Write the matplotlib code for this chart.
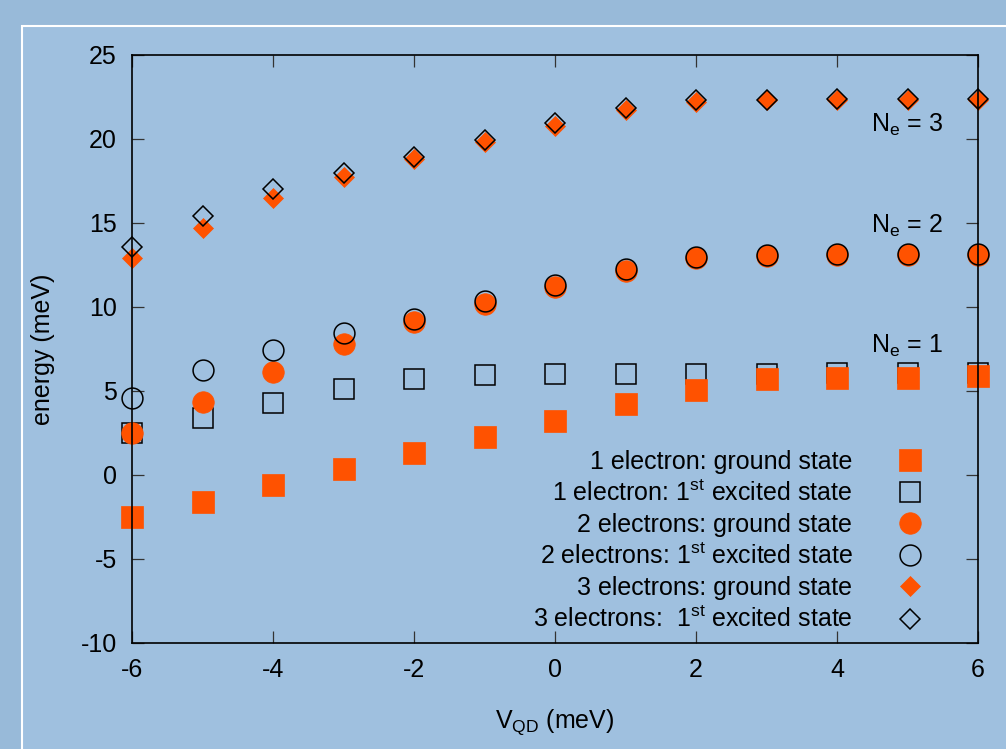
import matplotlib
matplotlib.use("Agg")
import matplotlib.pyplot as plt
from matplotlib.patches import Rectangle

plt.rcParams["font.family"] = ["Liberation Sans", "DejaVu Sans"]
plt.rcParams["mathtext.default"] = "regular"
plt.rcParams["axes.unicode_minus"] = False

# Gate voltage V_QD (meV)
v_qd = [-6, -5, -4, -3, -2, -1, 0, 1, 2, 3, 4, 5, 6]

# energies (meV)
e1_ground = [-2.5, -1.6, -0.6, 0.35, 1.3, 2.25, 3.2, 4.2, 5.05, 5.7, 5.8, 5.8, 5.9]
e1_excited = [2.5, 3.4, 4.3, 5.1, 5.7, 5.95, 6.0, 6.0, 6.03, 6.03, 6.05, 6.05, 6.05]
e2_ground = [2.5, 4.35, 6.15, 7.8, 9.1, 10.2, 11.2, 12.15, 12.9, 13.05, 13.1, 13.1, 13.1]
e2_excited = [4.6, 6.25, 7.45, 8.45, 9.3, 10.35, 11.3, 12.25, 13.0, 13.1, 13.15, 13.15, 13.15]
e3_ground = [12.9, 14.7, 16.5, 17.75, 18.8, 19.8, 20.8, 21.7, 22.2, 22.3, 22.3, 22.35, 22.35]
e3_excited = [13.6, 15.4, 17.0, 18.0, 18.95, 19.95, 20.95, 21.85, 22.3, 22.35, 22.4, 22.4, 22.4]

orange = "#ff5200"
outer_bg = "#98bad9"
inner_bg = "#9fc0df"

fig = plt.figure(figsize=(10.06, 7.49), dpi=100)
fig.patch.set_facecolor(outer_bg)
fig.add_artist(Rectangle((21.5 / 1006, -0.1), 1.2, 1.1 - 26 / 749,
                         transform=fig.transFigure, facecolor=inner_bg,
                         edgecolor="white", linewidth=1.5, zorder=0))

ax = fig.add_axes([132 / 1006, 1 - 643 / 749, 846 / 1006, 588 / 749])
ax.set_facecolor("none")

open_style = dict(ls="none", mfc="none", mec="black", mew=1.1, clip_on=False)
full_style = dict(ls="none", mfc=orange, mec=orange, mew=0.5, clip_on=False)

ax.plot(v_qd, e1_excited, marker="s", ms=15, **open_style,
        label="1 electron: 1$^{st}$ excited state", zorder=3)
ax.plot(v_qd, e1_ground, marker="s", ms=15.5, **full_style,
        label="1 electron: ground state", zorder=4)
ax.plot(v_qd, e2_ground, marker="o", ms=15.5, **full_style,
        label="2 electrons: ground state", zorder=5)
ax.plot(v_qd, e2_excited, marker="o", ms=15, **open_style,
        label="2 electrons: 1$^{st}$ excited state", zorder=6)
ax.plot(v_qd, e3_ground, marker="D", ms=10.5, **full_style,
        label="3 electrons: ground state", zorder=7)
ax.plot(v_qd, e3_excited, marker="D", ms=10.5, **open_style,
        label="3 electrons:  1$^{st}$ excited state", zorder=8)

ax.set_xlim(-6, 6)
ax.set_ylim(-10, 25)
ax.set_xticks(range(-6, 7, 2))
ax.set_yticks(range(-10, 26, 5))
ax.tick_params(direction="in", length=8.5, width=0.9, color="#333333", labelsize=18,
               top=True, right=True, pad=11)
for s in ax.spines.values():
    s.set_linewidth(1.2)
    s.set_zorder(10)
ax.set_xlabel("V$_{QD}$ (meV)", fontsize=18, labelpad=18)
ax.set_ylabel("energy (meV)", fontsize=18, labelpad=18)

ax.text(5.5, 20.4, "N$_e$ = 3", ha="right", va="baseline", fontsize=18)
ax.text(5.5, 14.4, "N$_e$ = 2", ha="right", va="baseline", fontsize=18)
ax.text(5.5, 7.3, "N$_e$ = 1", ha="right", va="baseline", fontsize=18)

# legend: text right-aligned, symbol after the text
handles, labels = ax.get_legend_handles_labels()
order = [1, 0, 2, 3, 4, 5]
leg = ax.legend([handles[i] for i in order], [labels[i] for i in order],
                loc="lower right", bbox_to_anchor=(0.949, 0.018),
                markerfirst=False, frameon=False, fontsize=18,
                handletextpad=1.3, labelspacing=0.27, borderpad=0, borderaxespad=0)
for t in leg.get_texts():
    t.set_ha("right")
leg._legend_box.align = "right"
leg.set_zorder(20)

fig.savefig("out.png", dpi=100, facecolor=fig.get_facecolor())
